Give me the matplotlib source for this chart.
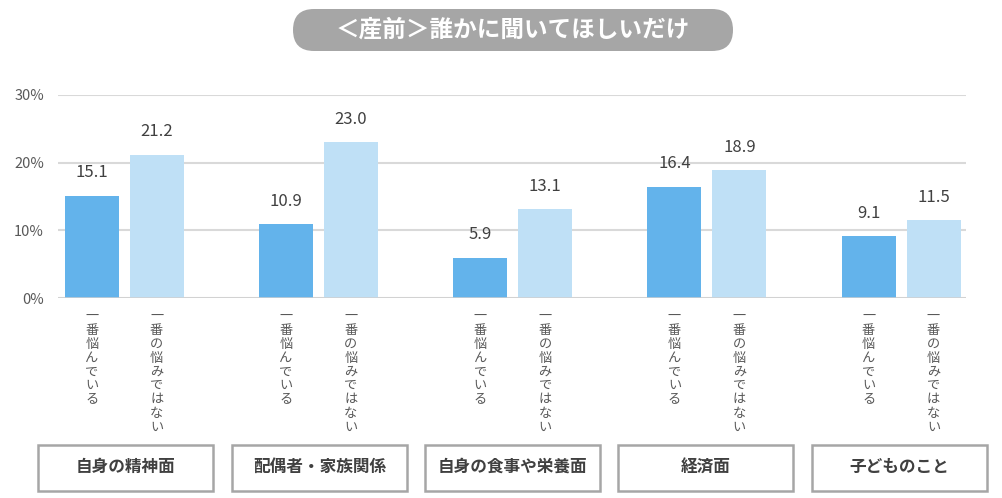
import matplotlib.pyplot as plt
import numpy as np
from matplotlib.patches import FancyBboxPatch, Rectangle

plt.rcParams['font.family'] = ['Noto Sans CJK JP', 'DejaVu Sans']

title = '＜産前＞誰かに聞いてほしいだけ'
categories = ['自身の精神面', '配偶者・家族関係', '自身の食事や栄養面', '経済面', '子どものこと']
series_names = ['一番悩んでいる', '一番の悩みではない']
worried = [15.1, 10.9, 5.9, 16.4, 9.1]
not_main = [21.2, 23.0, 13.1, 18.9, 11.5]
yticks = [0, 10, 20, 30]

W, H = 1002, 498
fig = plt.figure(figsize=(W / 100, H / 100), dpi=100)

# overlay axes in pixel units for title pill and category boxes
bg = fig.add_axes([0, 0, 1, 1])
bg.set_xlim(0, W)
bg.set_ylim(H, 0)
bg.axis('off')

# plot area in pixels
left, right, top, bottom = 58, 966, 95, 298
ax = fig.add_axes([left / W, 1 - bottom / H, (right - left) / W, (bottom - top) / H])

x = np.arange(len(categories))
off = 0.167
bw = 0.278
ax.bar(x - off, worried, bw, color='#63b3eb', zorder=3)
ax.bar(x + off, not_main, bw, color='#bfe0f6', zorder=3)

for xi, v in zip(x - off, worried):
    ax.annotate(f'{v:.1f}', (xi, v), xytext=(0, 10.5), textcoords='offset points',
                ha='center', va='bottom', fontsize=12, color='#404040')
for xi, v in zip(x + off, not_main):
    ax.annotate(f'{v:.1f}', (xi, v), xytext=(0, 10.5), textcoords='offset points',
                ha='center', va='bottom', fontsize=12, color='#404040')

ax.set_xlim(-0.341, 4.334)
ax.set_ylim(0, 30)
ax.set_yticks(yticks)
ax.set_yticklabels([f'{t}%' for t in yticks], fontsize=10.5, color='#595959')
ax.set_xticks([])
ax.tick_params(axis='y', length=0, pad=10)
ax.grid(axis='y', color='#d9d9d9', lw=1.5, zorder=0)
for s in ax.spines.values():
    s.set_visible(False)
ax.axhline(0, color='#d0d0d0', lw=1.8, zorder=4)

# vertical series labels under each bar
for i in range(len(categories)):
    for pos, name in zip([x[i] - off, x[i] + off], series_names):
        ax.text(pos, -1.8, '\n'.join(name), ha='center', va='top', fontsize=9.5,
                color='#595959', linespacing=1.08, clip_on=False)

# category boxes
box_x = [38, 232, 425, 618, 812]
box_w = 175
for bx, cat in zip(box_x, categories):
    bg.add_patch(Rectangle((bx, 445), box_w, 46, fill=False,
                           edgecolor='#a6a6a6', lw=1.8))
    bg.text(bx + box_w / 2, 467, cat, ha='center', va='center',
            fontsize=12, fontweight='bold', color='#404040')

# title pill
bg.add_patch(FancyBboxPatch((293, 9), 440, 42,
                            boxstyle='round,pad=0,rounding_size=21',
                            facecolor='#a6a6a6', edgecolor='none'))
bg.text(513, 30, title, ha='center', va='center', fontsize=17,
        fontweight='bold', color='white')

fig.savefig('out.png', dpi=100)
